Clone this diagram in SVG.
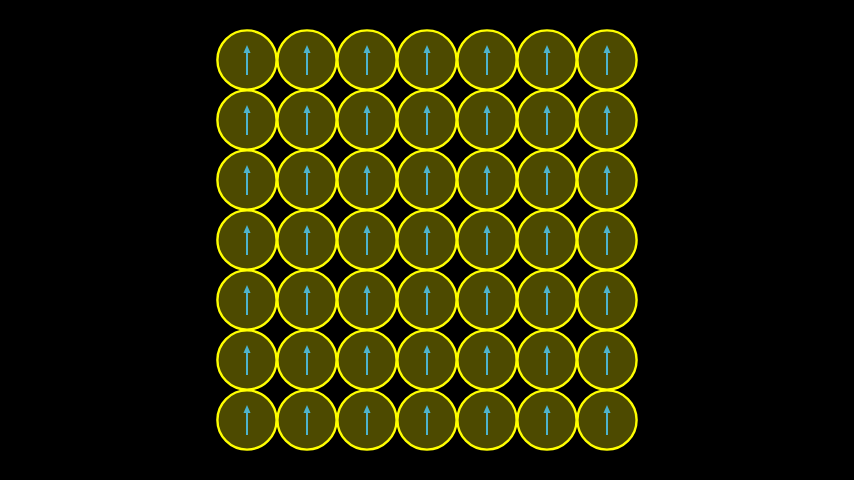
<svg xmlns="http://www.w3.org/2000/svg" xmlns:xlink="http://www.w3.org/1999/xlink" width="854" height="480" viewBox="0 0 854 480">
<style>
.c{fill:#4d4a00;stroke:#ffff00;stroke-width:2.4}
.a{stroke:#4eb4cc;stroke-width:2;fill:none}
.h{fill:#4eb4cc}
</style>
<defs>
<g id="cell">
<circle class="c" cx="0" cy="0" r="29.6"/>
<line class="a" x1="0" y1="15" x2="0" y2="-8"/>
<polygon class="h" points="0,-15 -3.5,-7 3.5,-7"/>
</g>
</defs>
<rect width="854" height="480" fill="#000"/>
<g id="n0_0" transform="translate(247,60)"><use href="#cell"/></g>
<g id="n0_1" transform="translate(307,60)"><use href="#cell"/></g>
<g id="n0_2" transform="translate(367,60)"><use href="#cell"/></g>
<g id="n0_3" transform="translate(427,60)"><use href="#cell"/></g>
<g id="n0_4" transform="translate(487,60)"><use href="#cell"/></g>
<g id="n0_5" transform="translate(547,60)"><use href="#cell"/></g>
<g id="n0_6" transform="translate(607,60)"><use href="#cell"/></g>
<g id="n1_0" transform="translate(247,120)"><use href="#cell"/></g>
<g id="n1_1" transform="translate(307,120)"><use href="#cell"/></g>
<g id="n1_2" transform="translate(367,120)"><use href="#cell"/></g>
<g id="n1_3" transform="translate(427,120)"><use href="#cell"/></g>
<g id="n1_4" transform="translate(487,120)"><use href="#cell"/></g>
<g id="n1_5" transform="translate(547,120)"><use href="#cell"/></g>
<g id="n1_6" transform="translate(607,120)"><use href="#cell"/></g>
<g id="n2_0" transform="translate(247,180)"><use href="#cell"/></g>
<g id="n2_1" transform="translate(307,180)"><use href="#cell"/></g>
<g id="n2_2" transform="translate(367,180)"><use href="#cell"/></g>
<g id="n2_3" transform="translate(427,180)"><use href="#cell"/></g>
<g id="n2_4" transform="translate(487,180)"><use href="#cell"/></g>
<g id="n2_5" transform="translate(547,180)"><use href="#cell"/></g>
<g id="n2_6" transform="translate(607,180)"><use href="#cell"/></g>
<g id="n3_0" transform="translate(247,240)"><use href="#cell"/></g>
<g id="n3_1" transform="translate(307,240)"><use href="#cell"/></g>
<g id="n3_2" transform="translate(367,240)"><use href="#cell"/></g>
<g id="n3_3" transform="translate(427,240)"><use href="#cell"/></g>
<g id="n3_4" transform="translate(487,240)"><use href="#cell"/></g>
<g id="n3_5" transform="translate(547,240)"><use href="#cell"/></g>
<g id="n3_6" transform="translate(607,240)"><use href="#cell"/></g>
<g id="n4_0" transform="translate(247,300)"><use href="#cell"/></g>
<g id="n4_1" transform="translate(307,300)"><use href="#cell"/></g>
<g id="n4_2" transform="translate(367,300)"><use href="#cell"/></g>
<g id="n4_3" transform="translate(427,300)"><use href="#cell"/></g>
<g id="n4_4" transform="translate(487,300)"><use href="#cell"/></g>
<g id="n4_5" transform="translate(547,300)"><use href="#cell"/></g>
<g id="n4_6" transform="translate(607,300)"><use href="#cell"/></g>
<g id="n5_0" transform="translate(247,360)"><use href="#cell"/></g>
<g id="n5_1" transform="translate(307,360)"><use href="#cell"/></g>
<g id="n5_2" transform="translate(367,360)"><use href="#cell"/></g>
<g id="n5_3" transform="translate(427,360)"><use href="#cell"/></g>
<g id="n5_4" transform="translate(487,360)"><use href="#cell"/></g>
<g id="n5_5" transform="translate(547,360)"><use href="#cell"/></g>
<g id="n5_6" transform="translate(607,360)"><use href="#cell"/></g>
<g id="n6_0" transform="translate(247,420)"><use href="#cell"/></g>
<g id="n6_1" transform="translate(307,420)"><use href="#cell"/></g>
<g id="n6_2" transform="translate(367,420)"><use href="#cell"/></g>
<g id="n6_3" transform="translate(427,420)"><use href="#cell"/></g>
<g id="n6_4" transform="translate(487,420)"><use href="#cell"/></g>
<g id="n6_5" transform="translate(547,420)"><use href="#cell"/></g>
<g id="n6_6" transform="translate(607,420)"><use href="#cell"/></g>
<g id="connectors"/>
</svg>
